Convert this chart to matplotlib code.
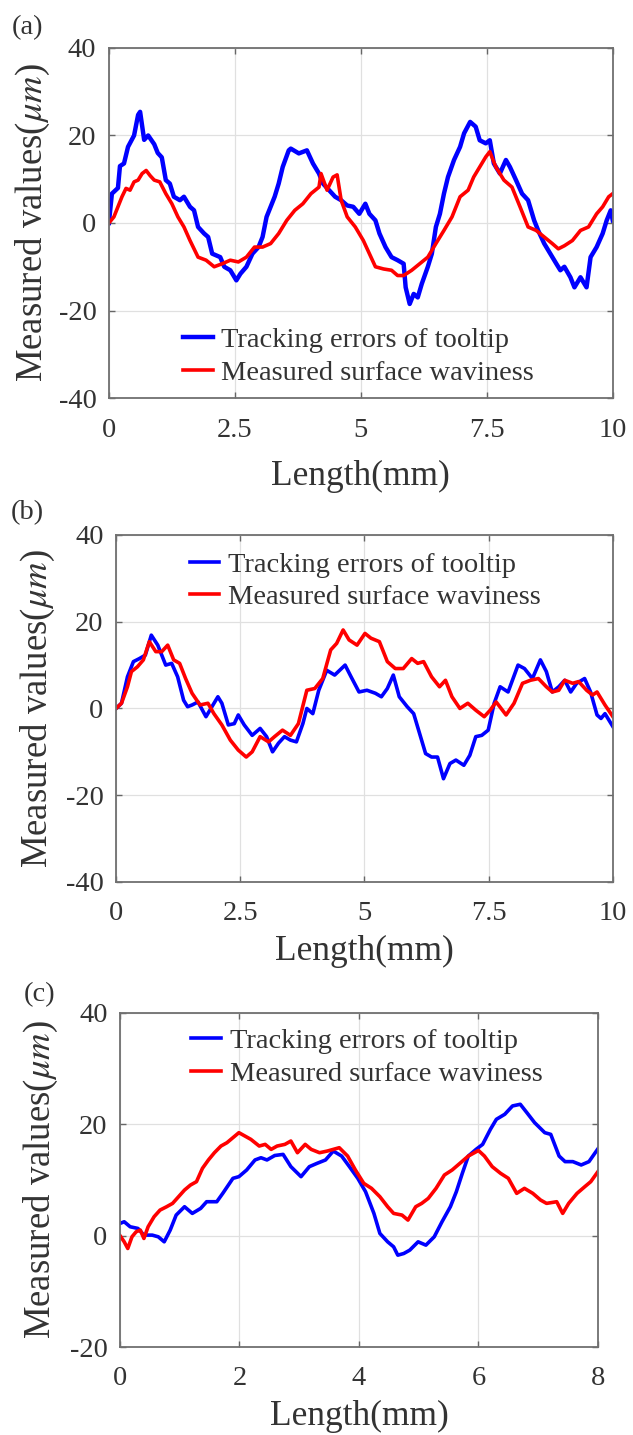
import matplotlib
matplotlib.use("Agg")
import matplotlib.pyplot as plt

plt.rcParams["font.family"] = ["Liberation Serif", "DejaVu Serif"]
plt.rcParams["mathtext.fontset"] = "stix"
plt.rcParams["axes.unicode_minus"] = False

# ---- panel (a) ----
a_blue_x = [0, 0.06, 0.18, 0.22, 0.30, 0.38, 0.50, 0.58, 0.62, 0.70, 0.78, 0.90, 0.97,
            1.05, 1.13, 1.21, 1.29, 1.41, 1.49, 1.61, 1.69, 1.77, 1.89, 1.97, 2.05, 2.21,
            2.29, 2.41, 2.53, 2.61, 2.73, 2.85, 2.97, 3.05, 3.13, 3.21, 3.29, 3.37, 3.45,
            3.57, 3.61, 3.77, 3.93, 4.05, 4.17, 4.25, 4.37, 4.49, 4.61, 4.73, 4.85, 4.97,
            5.09, 5.17, 5.29, 5.37, 5.49, 5.61, 5.73, 5.85, 5.89, 5.97, 6.05, 6.13, 6.21,
            6.33, 6.41, 6.49, 6.57, 6.65, 6.73, 6.85, 6.97, 7.05, 7.17, 7.28, 7.36, 7.48,
            7.56, 7.64, 7.76, 7.88, 7.96, 8.08, 8.20, 8.32, 8.44, 8.52, 8.64, 8.76, 8.88,
            8.96, 9.04, 9.16, 9.24, 9.36, 9.48, 9.56, 9.68, 9.80, 9.88, 9.96, 10.0]
a_blue_y = [0, 6.7, 8.0, 13.0, 13.6, 17.4, 20.0, 24.7, 25.4, 19.0, 20.0, 18.0, 16.0,
            15.0, 9.8, 9.0, 6.0, 5.2, 6.0, 3.7, 2.9, -0.9, -2.4, -3.2, -7.0, -7.8,
            -10.0, -10.8, -13.1, -11.6, -10.0, -7.0, -5.5, -3.2, 1.4, 3.7, 6.0, 9.0, 12.8,
            16.6, 17.0, 15.9, 16.6, 13.6, 11.3, 9.0, 7.5, 6.0, 5.2, 4.0, 3.7, 2.1,
            4.4, 2.1, 0.6, -2.4, -5.5, -7.8, -8.5, -9.3, -14.7, -18.5, -16.2, -17.0, -13.9,
            -10.0, -7.0, -0.9, 2.1, 6.7, 10.5, 14.4, 17.4, 20.5, 23.1, 22.0, 18.9, 18.2,
            18.9, 13.6, 11.3, 14.4, 12.8, 9.8, 6.7, 5.2, 0.6, -1.7, -4.7, -7.0, -9.3,
            -10.8, -10.0, -12.4, -14.7, -12.4, -14.7, -7.8, -5.5, -2.4, 0.6, 2.9, 0.6]

a_red_x = [0, 0.10, 0.18, 0.26, 0.34, 0.42, 0.50, 0.58, 0.66, 0.74, 0.82, 0.90, 1.01,
           1.13, 1.25, 1.37, 1.49, 1.61, 1.77, 1.93, 2.09, 2.25, 2.41, 2.57, 2.73, 2.89,
           3.05, 3.21, 3.37, 3.53, 3.69, 3.85, 4.01, 4.17, 4.21, 4.33, 4.45, 4.53, 4.61,
           4.73, 4.89, 5.05, 5.17, 5.29, 5.45, 5.61, 5.73, 5.85, 6.01, 6.17, 6.33, 6.49,
           6.65, 6.81, 6.97, 7.13, 7.24, 7.36, 7.48, 7.56, 7.68, 7.84, 8.00, 8.16, 8.32,
           8.48, 8.64, 8.80, 8.92, 9.04, 9.20, 9.36, 9.52, 9.68, 9.80, 9.92, 10.0]
a_red_y = [0, 1.4, 3.7, 6.0, 7.9, 7.5, 9.4, 9.8, 11.3, 12.0, 10.8, 9.8, 9.4,
           6.7, 4.4, 1.4, -0.9, -4.0, -7.8, -8.5, -10.0, -9.3, -8.5, -8.9, -7.8, -5.5,
           -5.5, -4.7, -2.4, 0.6, 2.9, 4.4, 6.7, 8.2, 11.3, 7.5, 10.5, 11.0, 5.2,
           1.4, -0.9, -4.0, -7.0, -10.0, -10.5, -10.8, -12.0, -12.0, -10.8, -9.3, -7.8, -4.7,
           -1.7, 1.4, 6.0, 7.5, 10.5, 12.8, 15.1, 16.3, 12.8, 9.8, 8.2, 3.7, -0.9,
           -1.7, -3.2, -4.7, -5.9, -5.2, -4.0, -1.7, -0.9, 2.1, 3.7, 6.0, 6.7]

# ---- panel (b) ----
b_blue_x = [0, 0.11, 0.23, 0.35, 0.47, 0.59, 0.71, 0.84, 1.00, 1.12, 1.24, 1.36, 1.44,
            1.53, 1.65, 1.81, 1.93, 2.05, 2.13, 2.26, 2.38, 2.46, 2.58, 2.74, 2.90, 3.03,
            3.15, 3.27, 3.39, 3.51, 3.63, 3.76, 3.84, 3.96, 4.08, 4.24, 4.40, 4.61, 4.73,
            4.89, 5.05, 5.22, 5.34, 5.46, 5.58, 5.70, 5.86, 5.99, 6.11, 6.23, 6.35, 6.47,
            6.59, 6.72, 6.84, 7.00, 7.12, 7.24, 7.36, 7.49, 7.61, 7.73, 7.89, 8.09, 8.22,
            8.38, 8.54, 8.66, 8.78, 8.91, 9.03, 9.15, 9.27, 9.43, 9.55, 9.68, 9.76, 9.84, 10.0]
b_blue_y = [0, 1.2, 7.3, 10.8, 11.5, 12.3, 16.9, 14.6, 10.0, 10.4, 7.3, 1.9, 0.4,
            0.8, 1.5, -1.9, 0.4, 2.7, 1.2, -3.8, -3.5, -1.5, -3.8, -6.2, -4.6, -6.5,
            -10.0, -8.0, -6.5, -7.3, -7.7, -3.5, 0.0, -1.2, 4.2, 8.8, 7.7, 10.0, 7.3,
            3.8, 4.2, 3.5, 2.7, 4.6, 7.7, 2.7, 0.4, -1.2, -5.8, -10.4, -11.2, -11.2,
            -16.2, -12.7, -11.9, -13.1, -10.8, -6.5, -6.2, -5.0, 1.2, 5.0, 3.8, 10.0, 9.2,
            6.9, 11.2, 8.5, 3.8, 5.0, 6.5, 3.8, 5.8, 6.9, 3.8, -1.5, -2.3, -1.2, -4.2]

b_red_x = [0, 0.11, 0.23, 0.31, 0.43, 0.55, 0.67, 0.80, 0.92, 1.04, 1.16, 1.28, 1.40,
           1.53, 1.69, 1.85, 1.97, 2.13, 2.30, 2.46, 2.62, 2.74, 2.90, 3.07, 3.19, 3.35,
           3.51, 3.67, 3.84, 4.00, 4.16, 4.32, 4.44, 4.57, 4.69, 4.85, 5.01, 5.13, 5.30,
           5.46, 5.62, 5.78, 5.95, 6.07, 6.19, 6.35, 6.51, 6.63, 6.76, 6.92, 7.08, 7.24,
           7.41, 7.53, 7.65, 7.85, 8.01, 8.18, 8.34, 8.50, 8.66, 8.78, 8.91, 9.03, 9.19,
           9.31, 9.47, 9.59, 9.68, 9.84, 10.0]
b_red_y = [0, 1.2, 5.0, 8.5, 9.6, 11.2, 15.4, 13.1, 13.1, 14.6, 11.2, 10.4, 6.9,
           3.5, 0.8, 1.2, -1.2, -3.8, -7.3, -9.6, -11.2, -10.0, -6.5, -7.7, -6.5, -5.0,
           -6.2, -3.5, 4.2, 4.6, 6.9, 13.5, 15.0, 18.1, 15.8, 14.6, 17.3, 16.2, 15.4,
           10.8, 9.2, 9.2, 11.5, 10.4, 10.8, 7.3, 5.0, 6.5, 2.7, 0.0, 1.2, -0.4,
           -1.9, -0.4, 1.5, -1.5, 1.2, 5.8, 6.5, 6.9, 5.0, 3.8, 4.2, 6.5, 5.8,
           6.2, 4.2, 3.1, 3.8, 0.8, -1.9]

# ---- panel (c) ----
c_blue_x = [0, 0.07, 0.17, 0.30, 0.40, 0.54, 0.64, 0.74, 0.84, 0.94, 1.08, 1.21, 1.35,
            1.45, 1.62, 1.72, 1.89, 1.99, 2.12, 2.26, 2.36, 2.46, 2.59, 2.73, 2.86, 3.03,
            3.17, 3.30, 3.44, 3.57, 3.71, 3.84, 3.98, 4.11, 4.25, 4.35, 4.48, 4.58, 4.65,
            4.75, 4.85, 4.99, 5.12, 5.26, 5.39, 5.53, 5.63, 5.73, 5.83, 5.96, 6.07, 6.20,
            6.30, 6.44, 6.57, 6.70, 6.81, 6.94, 7.11, 7.21, 7.35, 7.45, 7.58, 7.72, 7.85, 8.0]
c_blue_y = [2.2, 2.5, 1.6, 1.3, 0.1, 0.1, -0.2, -1.1, 1.0, 3.7, 5.2, 4.0, 4.9,
            6.1, 6.1, 7.6, 10.3, 10.6, 11.8, 13.6, 14.0, 13.6, 14.4, 14.6, 12.4, 10.6,
            12.4, 13.0, 13.6, 15.2, 14.3, 12.4, 10.3, 7.9, 4.0, 0.4, -1.1, -2.0, -3.5,
            -3.2, -2.6, -1.1, -1.7, -0.2, 2.5, 5.2, 7.9, 11.2, 14.3, 15.5, 16.4, 19.1,
            20.9, 21.8, 23.3, 23.6, 22.1, 20.3, 18.5, 18.2, 14.3, 13.3, 13.3, 12.7, 13.3, 15.6]

c_red_x = [0, 0.07, 0.13, 0.20, 0.27, 0.34, 0.40, 0.47, 0.57, 0.67, 0.78, 0.88, 0.98,
           1.08, 1.18, 1.28, 1.38, 1.48, 1.58, 1.69, 1.79, 1.89, 1.99, 2.09, 2.19, 2.33,
           2.43, 2.53, 2.63, 2.76, 2.86, 2.97, 3.10, 3.20, 3.34, 3.47, 3.57, 3.67, 3.81,
           3.94, 4.08, 4.21, 4.35, 4.48, 4.58, 4.72, 4.82, 4.95, 5.05, 5.16, 5.29, 5.43,
           5.56, 5.69, 5.83, 6.00, 6.10, 6.23, 6.37, 6.50, 6.64, 6.77, 6.91, 7.04, 7.14,
           7.31, 7.41, 7.51, 7.65, 7.78, 7.88, 8.0]
c_red_y = [0, -1.1, -2.3, -0.2, 0.7, 1.0, -0.5, 1.6, 3.4, 4.6, 5.2, 5.8, 7.0,
           8.2, 9.1, 9.7, 12.1, 13.6, 14.9, 16.1, 16.7, 17.6, 18.5, 17.9, 17.3, 16.1,
           16.4, 15.5, 16.1, 16.4, 17.0, 14.9, 16.4, 15.5, 14.9, 15.2, 15.5, 15.8, 14.3,
           11.8, 9.4, 8.5, 7.0, 5.2, 4.0, 3.7, 2.8, 5.2, 5.8, 6.7, 8.5, 10.9,
           11.8, 13.0, 14.3, 15.3, 14.3, 12.4, 11.2, 10.3, 7.6, 8.5, 7.6, 6.4, 5.8,
           6.1, 4.0, 5.8, 7.6, 8.8, 9.7, 11.5]

ten_ticks = [0, 2.5, 5, 7.5, 10]
ten_labels = ["0", "2.5", "5", "7.5", "10"]
eight_ticks = [0, 2, 4, 6, 8]

panels = [
    dict(tag="(a)", blue=(a_blue_x, a_blue_y), red=(a_red_x, a_red_y), blue_lw=3.2,
         xlim=(0, 10), xticks=ten_ticks, xticklabels=ten_labels,
         ylim=(-40, 40), yticks=[-40, -20, 0, 20, 40],
         rect=[0.172, 0.7226, 0.796, 0.2440], leg=(0.147, 0.119), tagpos=(0.043, 0.9805),
         xlab=-0.223, ylab=-0.151),
    dict(tag="(b)", blue=(b_blue_x, b_blue_y), red=(b_red_x, b_red_y), blue_lw=2.6,
         xlim=(0, 10), xticks=ten_ticks, xticklabels=ten_labels,
         ylim=(-40, 40), yticks=[-40, -20, 0, 20, 40],
         rect=[0.1833, 0.3854, 0.785, 0.2418], leg=(0.148, 0.867), tagpos=(0.043, 0.6425),
         xlab=-0.199, ylab=-0.157),
    dict(tag="(c)", blue=(c_blue_x, c_blue_y), red=(c_red_x, c_red_y), blue_lw=2.6,
         xlim=(0, 8), xticks=eight_ticks, xticklabels=[str(t) for t in eight_ticks],
         ylim=(-20, 40), yticks=[-20, 0, 20, 40],
         rect=[0.1896, 0.0613, 0.755, 0.2328], leg=(0.149, 0.867), tagpos=(0.063, 0.3066),
         xlab=-0.207, ylab=-0.165),
]

text_col = "#333333"
fig = plt.figure(figsize=(6.33, 14.35), dpi=100)

for p in panels:
    ax = fig.add_axes(p["rect"])
    ax.plot(*p["blue"], color="#0000ff", lw=p["blue_lw"], label="Tracking errors of tooltip")
    ax.plot(*p["red"], color="#ff0000", lw=2.6, label="Measured surface waviness")
    ax.set_xlim(*p["xlim"])
    ax.set_ylim(*p["ylim"])
    ax.set_xticks(p["xticks"])
    ax.set_xticklabels(p["xticklabels"])
    ax.set_yticks(p["yticks"])
    ax.grid(True, color="#e0e0e0", lw=0.9)
    ax.tick_params(direction="in", length=4, width=1, colors="#666666",
                   labelcolor=text_col, labelsize=20.5, top=True, right=True)
    ax.tick_params(axis="x", pad=14)
    ax.tick_params(axis="y", pad=9)
    for s in ax.spines.values():
        s.set_color("#707070")
        s.set_linewidth(1.3)
    ax.set_xlabel("Length(mm)", fontsize=25.5, color=text_col, va="center")
    ax.xaxis.set_label_coords(0.5, p["xlab"])
    ax.set_ylabel(r"Measured values($\mu m$)", fontsize=26.5, color=text_col, va="center")
    ax.yaxis.set_label_coords(p["ylab"], 0.5)
    ax.legend(loc="center left", bbox_to_anchor=p["leg"], frameon=False, fontsize=20.5,
              handlelength=1.05, handletextpad=0.3, borderpad=0, borderaxespad=0,
              labelspacing=0.24, labelcolor=text_col)
    fig.text(p["tagpos"][0], p["tagpos"][1], p["tag"], fontsize=20.5, color=text_col,
             ha="center", va="center")

fig.savefig("out.png", dpi=100)
